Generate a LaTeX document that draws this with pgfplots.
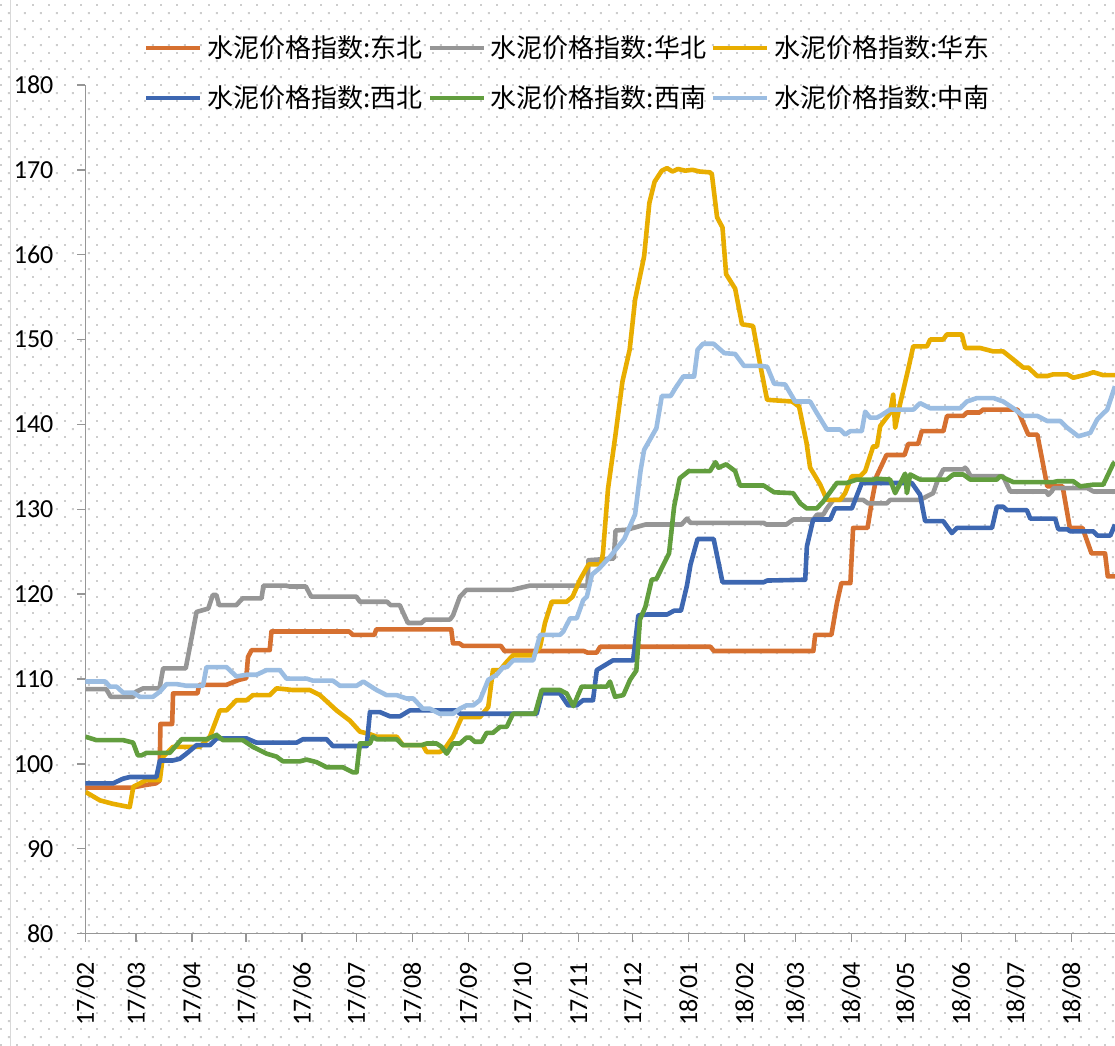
\documentclass[border=0pt]{standalone}
\usepackage{fontspec}
\setmainfont{Carlito}
\newfontfamily\cjk{Noto Sans CJK SC}
\usepackage{pgfplots}
\pgfplotsset{compat=1.18}
\usetikzlibrary{patterns.meta}
\definecolor{cOrange}{RGB}{214,112,48}
\definecolor{cGray}{RGB}{150,150,150}
\definecolor{cYellow}{RGB}{232,173,0}
\definecolor{cBlue}{RGB}{61,103,177}
\definecolor{cGreen}{RGB}{98,158,62}
\definecolor{cLight}{RGB}{155,189,226}
\definecolor{axgray}{RGB}{150,150,150}
\definecolor{dotgray}{RGB}{205,205,205}
\definecolor{bordergray}{RGB}{217,217,217}
\pgfdeclarepattern{
  name=exceldots,
  type=uncolored,
  bottom left={\pgfpoint{0pt}{0pt}},
  top right={\pgfpoint{8pt}{8pt}},
  tile size={\pgfpoint{8pt}{8pt}},
  code={
    \pgfpathrectangle{\pgfpoint{0pt}{0pt}}{\pgfpoint{1pt}{1pt}}
    \pgfpathrectangle{\pgfpoint{4pt}{4pt}}{\pgfpoint{1pt}{1pt}}
    \pgfusepath{fill}
  }
}
\begin{document}
\begin{tikzpicture}
\useasboundingbox (-42.75pt,-56pt) rectangle (515pt,467pt);
\fill[pattern=exceldots, pattern color=dotgray] (-42.75pt,-56pt) rectangle (515pt,467pt);
\draw[bordergray, line width=0.6pt] (-37.5pt,-56pt) -- (-37.5pt,467pt);
\begin{axis}[
  at={(0pt,0pt)}, anchor=south west, scale only axis,
  width=515pt, height=424.5pt,
  xmin=0, xmax=570, ymin=80, ymax=180,
  axis lines=left,
  axis line style={-, draw=axgray, line width=0.75pt},
  tick align=outside, major tick length=4pt,
  tick style={axgray, line width=0.75pt},
  xtick={0,28,59,89,120,150,181,212,242,273,303,334,365,393,424,454,485,515,546},
  xticklabels={17/02,17/03,17/04,17/05,17/06,17/07,17/08,17/09,17/10,17/11,17/12,18/01,18/02,18/03,18/04,18/05,18/06,18/07,18/08},
  ytick={80,90,100,110,120,130,140,150,160,170,180},
  x tick label style={rotate=90, anchor=east, font=\fontsize{13pt}{15pt}\selectfont},
  y tick label style={font=\fontsize{13pt}{15pt}\selectfont},
  xticklabel shift=7pt,
  yticklabel shift=8.5pt,
  /pgf/number format/assume math mode=true,
  legend columns=3,
  legend style={draw=none, fill=none, inner sep=0pt, outer sep=0pt,
    font=\cjk\fontsize{13pt}{15pt}\selectfont,
    nodes={inner sep=0pt},
    /tikz/every odd column/.style={column sep=2.5pt},
    /tikz/every even column/.style={column sep=2.5pt},
    row sep=12.5pt,
    at={(rel axis cs:0.0568,1.058)}, anchor=north west},
  legend image code/.code={\draw[#1, line width=2.25pt] (0pt,0pt) -- (27pt,0pt);},
  every axis plot/.append style={line width=2.3pt, line join=round},
]
% 东北
\addplot[cOrange] coordinates {(0,97.2)(26,97.2)(33,97.5)(39,97.7)(41,98.0)(41.5,104.7)(48,104.7)(48.5,108.3)(62,108.3)(63,109.3)(78,109.3)(85,109.9)(89,110.1)(90,112.6)(92,113.4)(102,113.4)(103,115.6)(146,115.6)(148,115.2)(160,115.2)(161,115.85)(202.5,115.85)(203.5,114.2)(207,114.2)(209,113.9)(230,113.9)(232,113.3)(276,113.3)(278,113.1)(283,113.1)(285,113.8)(346,113.8)(348,113.3)(403,113.3)(404,115.2)(413,115.2)(416,118.9)(418.5,121.3)(423.5,121.3)(425,127.8)(433,127.8)(435.5,131.1)(438,133.9)(443.5,136.4)(453.5,136.4)(455.5,137.7)(461,137.7)(463,139.2)(475,139.2)(477,141.0)(486,141.0)(488,141.4)(495,141.4)(497,141.75)(516,141.75)(522,138.8)(527,138.8)(530,135.5)(532.5,132.7)(541,132.7)(545,127.8)(552,127.8)(557,124.8)(564.5,124.8)(566,122.1)(570,122.1)};
\addlegendentry{水泥价格指数:东北}
% 华北
\addplot[cGray] coordinates {(0,108.8)(11.5,108.8)(14,107.9)(26.5,107.9)(28,108.5)(32,108.9)(41,108.9)(43,111.25)(55.5,111.25)(58,114)(61.5,117.9)(68,118.3)(70.5,119.9)(72.5,119.9)(74,118.7)(83.5,118.7)(87,119.5)(97.5,119.5)(98.5,121.0)(111,121.0)(113,120.9)(122,120.9)(125,119.7)(150,119.7)(152,119.1)(167,119.1)(169,118.7)(174,118.7)(178.5,116.6)(186,116.6)(188,117.0)(201.8,117.0)(203.5,117.5)(207.3,119.7)(211,120.5)(236,120.5)(246,121.0)(278,121.0)(278.5,124.0)(292.5,124.2)(293.5,127.5)(300,127.6)(310,128.2)(330,128.2)(333,128.9)(335,128.4)(375.5,128.4)(377,128.2)(388,128.2)(392,128.8)(403,128.8)(405,129.35)(408.4,129.35)(410.5,130.1)(414,131.1)(430.6,131.1)(433.3,130.7)(443.7,130.7)(445.5,131.1)(462,131.1)(469.3,131.9)(472,133.5)(475,134.7)(486,134.7)(487,134.9)(488,134.7)(490,133.9)(508,133.9)(512,132.1)(532,132.1)(533,131.7)(535,132.1)(536,132.5)(554.7,132.5)(558,132.1)(570,132.1)};
\addlegendentry{水泥价格指数:华北}
% 华东
\addplot[cYellow] coordinates {(0,96.7)(8,95.7)(15,95.3)(24.5,94.9)(26.5,97.3)(33.8,98.1)(41.2,98.1)(42.8,100.8)(48.5,102.0)(63.3,102.0)(68.9,103.2)(74.4,106.3)(78.1,106.3)(83.6,107.5)(89.2,107.5)(92.7,108.1)(102.1,108.1)(105.8,108.9)(114.8,108.7)(124.2,108.7)(129.8,108.1)(139,106.3)(146.4,105.1)(151.9,103.8)(157.5,103.5)(161.2,103.2)(172.3,103.2)(175.8,102.2)(186.8,102.2)(188.9,101.4)(196.2,101.4)(199,101.8)(203.5,103.2)(208.3,105.5)(218.4,105.5)(223,106.7)(225.6,111.05)(229.5,111.05)(233.2,112.0)(236.7,112.8)(247.8,112.8)(251.7,113.8)(254.4,116.6)(258.1,119.1)(266.4,119.1)(269.7,119.7)(273.8,121.7)(278.6,123.5)(285.4,123.5)(286.5,124.8)(289.3,132.4)(293.4,138.7)(297.3,145.05)(301.3,148.8)(304.3,154.7)(309.3,159.8)(312.2,166.1)(315.1,168.6)(319.1,169.9)(322,170.2)(325,169.8)(328,170.1)(332,169.9)(336,170.0)(340,169.8)(345.8,169.7)(346.8,169.5)(349.7,164.4)(352.7,163.2)(354.7,157.7)(359.7,156.0)(363.5,151.8)(369.6,151.6)(373.5,147.1)(377.4,142.9)(391.2,142.7)(395.1,142.1)(399.2,137.85)(401.2,134.9)(402.9,134.3)(406.8,132.9)(410.5,131.1)(417.8,131.1)(420.6,131.9)(424.3,133.9)(428.9,133.9)(431.7,134.5)(436.1,137.4)(438.2,137.4)(440,139.8)(445.5,141.35)(447.2,143.5)(448.3,139.6)(451.1,142.5)(455.5,146.5)(458.3,149.2)(465.9,149.2)(467.7,150.0)(474.9,150.0)(476.9,150.6)(485.2,150.6)(487.1,149.0)(495.4,149.0)(502.6,148.6)(508.1,148.6)(513.7,147.65)(519.2,146.7)(522,146.7)(527,145.7)(532.5,145.7)(535.8,145.9)(543.6,145.9)(546.9,145.5)(554.7,145.9)(558,146.15)(563.5,145.8)(570,145.8)};
\addlegendentry{水泥价格指数:华东}
% 西北
\addplot[cBlue] coordinates {(0,97.7)(15.3,97.7)(20.8,98.25)(24.5,98.45)(39.3,98.45)(41.2,100.4)(48.5,100.4)(52.2,100.6)(55.9,101.2)(61.5,102.2)(68.9,102.2)(72.6,103.0)(89.2,103.0)(94.7,102.5)(116.9,102.5)(120.4,102.9)(133.5,102.9)(137,102.1)(155.7,102.1)(157.5,106.1)(163,106.1)(168.6,105.6)(174.1,105.6)(179.6,106.3)(205.5,106.3)(207.3,105.9)(249.8,105.9)(252.6,108.3)(262.7,108.3)(267.2,106.9)(272,106.9)(275.5,107.5)(281,107.5)(283.1,111.05)(292.1,112.2)(303.2,112.2)(306.1,117.5)(311.2,117.6)(322,117.6)(325.9,118.05)(329.7,118.05)(333,121.0)(335,123.5)(338.9,126.5)(347.8,126.5)(352.7,121.4)(375.5,121.4)(377.4,121.6)(398.5,121.7)(399.4,125.6)(402.9,128.8)(412.3,128.8)(415,130.1)(424.3,130.1)(429.8,133.1)(457.5,133.1)(462.1,131.7)(464.9,128.6)(474.9,128.6)(479.7,127.2)(482.5,127.8)(501.9,127.8)(504.6,130.3)(508.1,130.3)(510.2,129.9)(521.2,129.9)(523.1,128.9)(536.9,128.9)(538.6,127.65)(543.6,127.65)(545.2,127.4)(558,127.4)(560.2,126.9)(567.4,126.9)(570,128.2)};
\addlegendentry{水泥价格指数:西北}
% 西南
\addplot[cGreen] coordinates {(0,103.2)(6,102.8)(20.8,102.8)(26.4,102.5)(29,101.0)(31,101.0)(33.8,101.3)(46.7,101.3)(53.2,102.9)(67,102.9)(72.6,103.4)(76.1,102.8)(87.1,102.8)(92.7,102.0)(100.3,101.2)(105.8,100.85)(109.3,100.3)(118.7,100.3)(122.4,100.5)(128,100.2)(133.5,99.6)(142.5,99.6)(148.1,99.0)(150.1,99.0)(151.9,102.4)(157.5,102.4)(159.1,103.2)(161.2,102.9)(172.3,102.9)(175.8,102.2)(186.1,102.2)(188.9,102.4)(194.4,102.4)(197.2,102.0)(200,101.2)(203.5,102.4)(207.3,102.4)(211,103.1)(212.9,103.1)(215.6,102.6)(219.3,102.6)(222.1,103.65)(225.6,103.65)(229.5,104.35)(233.2,104.35)(236.7,105.9)(248.9,105.9)(252.6,108.7)(262.7,108.7)(266.4,108.3)(270.1,106.8)(274.7,109.1)(288.6,109.1)(290.4,109.7)(293.2,107.9)(297.8,108.1)(301.5,109.9)(305,111.0)(307,117.0)(310,118.5)(313.5,121.7)(316.1,121.8)(323.1,124.8)(325.9,130.3)(329,133.65)(334,134.5)(345.8,134.5)(348.8,135.55)(350.5,134.9)(354.7,135.3)(359.7,134.5)(362.4,132.8)(375.5,132.8)(381.3,132.0)(391.8,131.9)(395.7,130.7)(399.4,130.1)(404.9,130.1)(408.4,130.9)(416,133.1)(421.5,133.1)(427.1,133.5)(436.1,133.5)(438.2,133.6)(445.5,133.5)(448.3,131.9)(453.8,134.2)(454.8,131.9)(456.6,134.1)(462.1,133.5)(476.9,133.5)(480.4,134.1)(486,134.1)(489.8,133.5)(504.6,133.5)(506.5,133.9)(513.7,133.2)(535.8,133.2)(538,133.3)(546.9,133.3)(550.8,132.7)(558,132.9)(563.5,132.9)(569,135.35)(570,135.5)};
\addlegendentry{水泥价格指数:西南}
% 中南
\addplot[cLight] coordinates {(0,109.7)(11,109.7)(13.5,109.1)(17.2,109.1)(20.8,108.4)(26.4,108.4)(30.1,107.9)(37.4,107.9)(41.2,108.5)(44.9,109.4)(50.4,109.4)(55.9,109.2)(65.1,109.2)(67,111.4)(78.1,111.4)(83.6,110.3)(89.2,110.5)(94.7,110.5)(100.3,111.05)(107.6,111.05)(111.3,110.05)(122.4,110.05)(125.9,109.8)(137,109.8)(140.9,109.2)(150.1,109.2)(153.8,109.7)(161.2,108.7)(166.7,108.1)(172.3,108.1)(177.8,107.7)(181.5,107.7)(186.8,106.5)(190.7,106.5)(196.2,105.9)(203.5,105.9)(207.3,106.5)(211,106.9)(214.7,106.9)(218.4,107.5)(223,109.9)(227.7,110.5)(231.3,111.4)(233.2,111.4)(236.9,112.2)(247.9,112.2)(251.7,115.2)(262.7,115.2)(264.6,115.6)(268.3,117.15)(272,117.15)(275.6,119.3)(277.6,119.7)(280.4,122.3)(284.3,123.0)(290.4,124.4)(298.3,126.5)(304.3,129.4)(307.3,134.5)(309.3,137.0)(316.1,139.55)(319.1,143.35)(324,143.35)(327,144.4)(331,145.65)(337,145.65)(338.9,148.8)(341.9,149.5)(347.8,149.5)(353.7,148.4)(359.7,148.3)(364.6,146.9)(373.5,146.9)(377.4,146.8)(381.3,144.8)(387.4,144.7)(392.9,142.7)(401.2,142.7)(404.9,141.35)(410.5,139.4)(417.8,139.4)(420.6,138.8)(423.4,139.2)(429.8,139.2)(431.7,141.5)(434.4,140.8)(438.2,140.8)(440,141.0)(445.5,141.75)(458.4,141.75)(462.1,142.5)(467.7,141.9)(484.3,141.9)(488,142.7)(493.5,143.1)(502.8,143.1)(508.1,142.7)(513.7,141.9)(519.2,141.0)(527,141.0)(532.5,140.4)(539.7,140.4)(543.6,139.6)(549.7,138.6)(556.3,139.0)(560.2,140.6)(565.7,141.75)(570,144.5)};
\addlegendentry{水泥价格指数:中南}
\end{axis}
\end{tikzpicture}
\end{document}
